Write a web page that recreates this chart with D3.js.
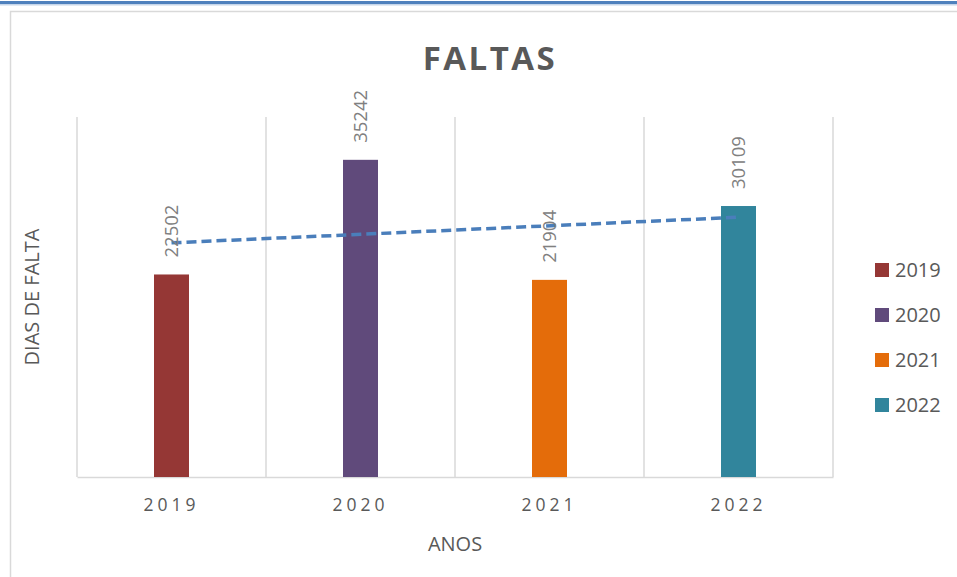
<!DOCTYPE html>
<html>
<head>
<meta charset="utf-8">
<script src="https://cdn.jsdelivr.net/npm/d3@7"></script>
<style>
  body { margin: 0; background: #fff; }
  svg { display: block; font-family: 'Open Sans', sans-serif; }
  .grid-line { stroke: #d9d9d9; stroke-width: 1.5; }
  .trendline { fill: none; stroke: #4a7ebb; stroke-width: 3.5; stroke-dasharray: 10,5; }
  .value-label { fill: #808080; font-size: 18.5px; }
  .axis-label { fill: #595959; font-size: 20px; }
</style>
</head>
<body>
<svg id="plotarea"></svg>
<script>
d3.select(window).on('load', init);

// chart data
const years = ['2019', '2020', '2021', '2022'];
const faltas = [22502, 35242, 21904, 30109];
const colors = ['#953735', '#604a7b', '#e46c0a', '#31859c'];

const margin = {
    top: 117,
    bottom: 100,
    left: 77,
    right: 124,
}

const dims = {
    width: 957 - margin.left - margin.right,
    height: 577 - margin.top - margin.bottom,
}

function init() {
    var root = d3.select('#plotarea')
                 .attr('width', 957)
                 .attr('height', 577);

    // blue rule at top of page + chart frame
    root.append('rect').attr('x', 0).attr('y', 1).attr('width', 957).attr('height', 3).attr('fill', '#4f81bd');
    root.append('rect').attr('x', 0).attr('y', 4).attr('width', 957).attr('height', 1.5).attr('fill', '#c6d6ea');
    root.append('rect')
        .attr('x', 10.5).attr('y', 11.5)
        .attr('width', 980).attr('height', 600)
        .attr('fill', 'none')
        .attr('stroke', '#d9d9d9')
        .attr('stroke-width', 1.5);

    var svg = root.append('g')
                  .attr('transform', `translate(${margin.left}, ${margin.top})`);

    var x = d3.scaleBand().domain(years).range([0, dims.width]);
    var y = d3.scaleLinear().domain([0, 40000]).range([dims.height, 0]);

    // vertical grid lines between categories
    var bounds = years.map(d => x(d)).concat([dims.width]);
    svg.selectAll('line.vgrid')
       .data(bounds)
       .enter().append('line')
       .attr('class', 'grid-line')
       .attr('x1', d => d).attr('x2', d => d)
       .attr('y1', 0).attr('y2', dims.height);

    // x axis
    var xAxis = svg.append('g')
       .attr('class', 'x-axis')
       .attr('transform', 'translate(0,' + dims.height + ')')
       .call(d3.axisBottom(x).tickSize(0).tickPadding(22));
    xAxis.select('.domain').attr('stroke', '#d9d9d9').attr('stroke-width', 1.5);
    xAxis.selectAll('text')
         .attr('fill', '#595959')
         .style('font-size', '17.5px')
         .style('letter-spacing', '4px')
         .style('font-family', "'Open Sans', sans-serif");

    // bars
    var barW = 35;
    svg.selectAll('rect.bar')
       .data(years)
       .enter().append('rect')
       .attr('class', 'bar')
       .attr('x', (d) => x(d) + x.bandwidth() / 2 - barW / 2)
       .attr('width', barW)
       .attr('y', (d, i) => y(faltas[i]))
       .attr('height', (d, i) => dims.height - y(faltas[i]))
       .attr('fill', (d, i) => colors[i]);

    // trendline (linear, like excel)
    var coeff = leastSquares(years.map((d, i) => i + 1), faltas);
    var trendData = [[years[0], coeff[0] * 1 + coeff[1]],
                     [years[years.length - 1], coeff[0] * years.length + coeff[1]]];
    var trendLine = d3.line()
                      .x(d => x(d[0]) + x.bandwidth() / 2)
                      .y(d => y(d[1]));
    svg.append('path')
       .attr('class', 'trendline')
       .attr('d', trendLine(trendData));

    // value labels, rotated
    svg.selectAll('text.value-label')
       .data(years)
       .enter().append('text')
       .attr('class', 'value-label')
       .attr('transform', (d, i) => `translate(${x(d) + x.bandwidth() / 2}, ${y(faltas[i]) - 17}) rotate(-90)`)
       .attr('dy', '0.35em')
       .style('text-anchor', 'start')
       .text((d, i) => faltas[i]);

    // axis titles
    svg.append('text')
       .attr('class', 'axis-label')
       .attr('x', 378)
       .attr('y', dims.height + 74)
       .style('text-anchor', 'middle')
       .text('ANOS');

    svg.append('text')
       .attr('class', 'axis-label')
       .attr('transform', 'rotate(-90)')
       .attr('x', -(297 - margin.top))
       .attr('y', 32 - margin.left)
       .attr('dy', '0.35em')
       .style('text-anchor', 'middle')
       .text('DIAS DE FALTA');

    // title
    root.append('text')
        .attr('x', 490)
        .attr('y', 70)
        .style('text-anchor', 'middle')
        .style('font-size', '33px')
        .style('font-weight', 'bold')
        .style('letter-spacing', '2.5px')
        .attr('fill', '#595959')
        .text('FALTAS');

    // legend
    var legend = root.append('g').attr('transform', 'translate(875, 270)');
    var rows = legend.selectAll('g')
                     .data(years)
                     .enter().append('g')
                     .attr('transform', (d, i) => `translate(0, ${i * 45})`);
    rows.append('rect')
        .attr('x', 0).attr('y', -7)
        .attr('width', 14).attr('height', 14)
        .attr('fill', (d, i) => colors[i]);
    rows.append('text')
        .attr('x', 20)
        .attr('dy', '0.35em')
        .attr('fill', '#595959')
        .style('font-size', '20px')
        .text(d => d);
}

// returns slope, intercept and r-square of the line
function leastSquares(xSeries, ySeries) {
    var reduceSumFunc = function(prev, cur) { return prev + cur; };

    var xBar = xSeries.reduce(reduceSumFunc) * 1.0 / xSeries.length;
    var yBar = ySeries.reduce(reduceSumFunc) * 1.0 / ySeries.length;

    var ssXX = xSeries.map(function(d) { return Math.pow(d - xBar, 2); })
        .reduce(reduceSumFunc);
    var ssYY = ySeries.map(function(d) { return Math.pow(d - yBar, 2); })
        .reduce(reduceSumFunc);
    var ssXY = xSeries.map(function(d, i) { return (d - xBar) * (ySeries[i] - yBar); })
        .reduce(reduceSumFunc);

    var slope = ssXY / ssXX;
    var intercept = yBar - (xBar * slope);
    var rSquare = Math.pow(ssXY, 2) / (ssXX * ssYY);

    return [slope, intercept, rSquare];
}
</script>
</body>
</html>
